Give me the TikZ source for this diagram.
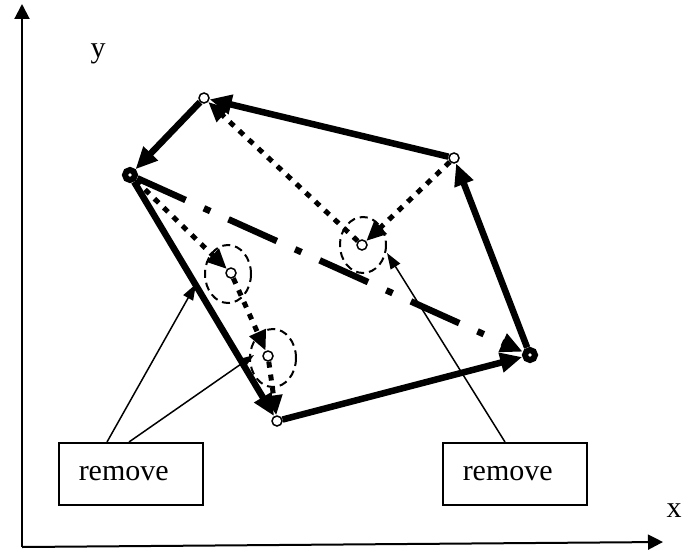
\documentclass[tikz,border=0pt]{standalone}
\usepackage{fontspec}
\setmainfont{Liberation Serif}
\usetikzlibrary{arrows.meta}

\begin{document}
\begin{tikzpicture}[x=1pt, y=-1pt,
      vtx/.style={draw, circle, fill=white, line width=1.5pt,
                  inner sep=0pt, minimum size=10pt},
      hub/.style={draw, circle, fill=white, line width=6pt,
                  inner sep=0pt, minimum size=10pt},
      sld/.style={-{Triangle[length=22pt,width=19pt]}, line width=6.5pt},
      dtd/.style={-{Triangle[length=20pt,width=17pt]}, line width=5pt,
                  dash pattern=on 6pt off 7pt},
      dsh/.style={-{Triangle[length=22pt,width=19pt]}, line width=6.5pt,
                  dash pattern=on 53pt off 20pt on 7pt off 20pt},
      ring/.style={line width=2pt, dash pattern=on 8pt off 5pt},
      note/.style={draw, line width=1.5pt, minimum height=62pt,
                   text width=104pt, inner xsep=20pt, align=left,
                   anchor=north west, font=\fontsize{30}{32}\selectfont},
      call/.style={-{Triangle[length=16pt,width=11pt]}, line width=1.5pt},
      axis/.style={-{Triangle[length=15pt,width=15pt]}, line width=2pt},
      lbl/.style={anchor=base, font=\fontsize{30}{32}\selectfont}
  ]
    \useasboundingbox (0,0) rectangle (693,551);

    % axes
    \coordinate (org) at (22,547);
    \coordinate (xend) at (663,542);
    \coordinate (yend) at (22,4);
    \draw[axis] (org) -- (yend);
    \draw[axis] (org) -- (xend);
    \node[lbl] (ylab) at (98,58) {y};
    \node[lbl] (xlab) at (674,517) {x};

    % polygon vertices
    \node[hub] (lt) at (130,175) {};
    \node[vtx] (tp) at (204,98) {};
    \node[vtx] (rt) at (454,158) {};
    \node[hub] (rb) at (530,355) {};
    \node[vtx] (bt) at (277,421) {};
    % inner points
    \node[vtx] (cm) at (362,245) {};
    \node[vtx] (m1) at (231,273) {};
    \node[vtx] (m2) at (268,356) {};

    \draw[ring] (363,245) ellipse [x radius=23, y radius=28];
    \draw[ring] (228,274) ellipse [x radius=23, y radius=29];
    \draw[ring] (273,358) ellipse [x radius=23, y radius=29];

    % outer loop
    \draw[sld] (lt) -- (bt); \draw[sld] (bt) -- (rb); \draw[sld] (rb) -- (rt);
    \draw[sld] (rt) -- (tp); \draw[sld] (tp) -- (lt);
    % dotted paths
    \draw[dtd] (rt) -- (cm); \draw[dtd] (cm) -- (tp);
    \draw[dtd] (lt) -- (m1); \draw[dtd] (m1) -- (m2); \draw[dtd] (m2) -- (bt);
    % diagonal
    \draw[dsh] (lt) -- (rb);

    % remove boxes
    \node[note] (rm1) at (58,442) {remove};
    \node[note] (rm2) at (442,442) {remove};
    \coordinate (t1) at (196,284);
    \coordinate (t2) at (254,355);
    \coordinate (t3) at (387,253);
    \draw[call] ([xshift=49pt]rm1.north west) -- (t1);
    \draw[call] ([xshift=71pt]rm1.north west) -- (t2);
    \draw[call] ([xshift=63pt]rm2.north west) -- (t3);
  \end{tikzpicture}
\end{document}
